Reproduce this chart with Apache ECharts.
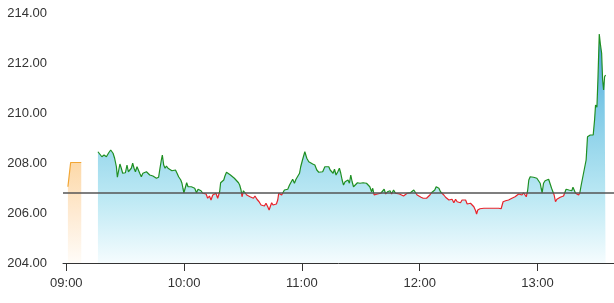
<!DOCTYPE html>
<html>
<head>
<meta charset="utf-8">
<script src="https://cdn.jsdelivr.net/npm/echarts@6/dist/echarts.min.js"></script>
<style>
  html, body { margin: 0; padding: 0; background: #fff; }
  #chart { width: 614px; height: 303px; }
</style>
</head>
<body>
<div id="chart"></div>
<script>
// 分钟数(相对 09:00) 和价格
var preTimes  = [0.8, 2.2, 7.6];
var prePrices = [207.05, 208.02, 208.02];

var mainTimes = [
  16.1,17.0,18.1,19.2,20.4,21.6,22.6,23.8,24.6,25.5,26.0,26.7,27.3,28.0,28.7,29.4,30.1,30.9,31.6,32.3,
  33.1,33.8,34.5,35.2,36.0,36.7,37.4,38.2,39.0,39.9,40.8,41.6,42.5,43.3,44.1,45.0,45.9,46.4,47.0,47.7,
  48.4,48.9,49.6,50.3,51.0,51.8,52.8,53.8,54.8,55.6,56.4,57.2,58.3,58.9,59.4,59.9,60.7,61.3,62.0,62.8,
  63.7,64.5,65.4,66.3,67.1,
  67.8,68.6,69.5,70.3,71.2,72.0,72.9,73.7,74.6,75.4,76.2,77.1,77.6,78.1,78.6,79.3,80.2,80.8,81.6,82.6,
  83.6,84.6,85.6,86.6,87.7,88.3,89.0,89.5,90.2,91.0,91.9,92.8,93.6,94.4,95.3,96.1,97.1,98.2,99.2,100.1,
  100.9,101.7,102.6,103.3,104.0,104.6,105.3,106.0,107.0,107.7,108.2,108.9,109.7,110.4,111.1,111.9,112.8,113.7,114.5,115.3,
  116.2,117.0,117.9,118.8,
  119.4,120.3,121.5,122.5,123.5,124.5,125.5,126.6,127.6,128.6,129.6,130.6,131.7,132.7,133.7,134.4,135.2,135.9,136.6,137.4,
  138.3,139.1,139.8,140.5,141.2,142.0,142.9,143.5,144.2,144.9,145.6,146.3,147.3,148.3,149.0,149.6,150.4,151.2,152.0,152.9,
  153.7,154.6,155.5,156.1,156.8,157.6,158.5,159.3,160.2,161.1,161.9,162.7,163.6,164.4,164.9,165.7,166.7,167.7,168.7,169.7,
  170.7,171.8,
  172.8,173.6,174.5,175.3,176.1,177.0,177.9,178.7,179.6,180.7,181.8,182.6,183.5,184.3,185.2,186.0,186.9,187.7,188.4,189.1,
  189.8,190.6,191.4,192.3,193.2,194.0,194.9,195.7,196.5,197.4,198.3,199.1,200.0,200.8,201.6,202.5,203.4,204.2,205.1,205.9,
  206.7,207.6,208.5,209.0,209.6,210.7,212.7,215.2,217.8,220.3,221.5,222.5,223.8,
  224.4,225.3,226.1,227.0,227.8,228.6,229.5,230.4,231.2,232.1,232.9,233.7,234.3,235.0,235.6,236.3,237.2,238.0,238.8,239.7,
  240.6,241.4,241.9,242.4,243.1,243.9,244.8,245.7,246.5,247.2,247.9,248.5,249.2,249.9,250.8,251.6,252.4,253.3,254.1,254.6,
  255.4,256.0,256.7,257.5,258.1,258.7,259.4,260.1,261.0,261.6,262.3,263.2,264.2,264.8,265.5,266.2,266.9,267.7,268.4,269.1,
  269.6,270.3,270.8,271.5,272.0,272.7,273.2,273.7,274.2,274.7
];

var mainPrices = [
  208.45,208.41,208.25,208.32,208.25,208.41,208.52,208.39,208.19,207.85,207.43,207.72,207.96,207.79,207.59,207.65,207.61,207.92,207.65,207.59,
  207.79,207.99,207.79,207.65,207.85,207.83,207.59,207.45,207.59,207.52,207.65,207.61,207.52,207.48,207.48,207.43,207.39,207.32,207.43,207.79,
  208.12,208.32,207.92,207.79,207.88,207.79,207.72,207.69,207.61,207.72,207.59,207.45,207.32,207.19,206.99,206.81,206.85,207.21,207.05,207.12,
  207.05,207.05,206.99,206.81,206.95,
  206.95,206.89,206.79,206.81,206.76,206.59,206.68,206.52,206.72,206.65,206.79,206.59,206.55,206.85,207.21,207.25,207.32,207.48,207.63,207.59,
  207.52,207.45,207.39,207.32,207.21,207.12,206.92,206.65,206.89,206.81,206.72,206.79,206.65,206.72,206.59,206.68,206.55,206.45,206.32,206.36,
  206.28,206.39,206.25,206.12,206.28,206.41,206.32,206.39,206.36,206.52,206.79,206.81,206.72,206.79,206.92,206.85,206.95,207.12,207.19,207.35,
  207.19,207.35,207.29,207.59,
  207.85,208.12,208.45,208.19,208.05,208.01,207.96,207.92,207.72,207.63,207.61,207.65,207.85,207.92,207.85,207.72,207.79,207.59,207.75,207.52,
  207.65,207.79,207.59,207.32,207.12,207.25,207.19,207.32,207.19,207.52,207.25,207.05,207.12,207.21,207.29,207.19,207.25,207.21,207.25,207.19,
  207.21,207.05,206.85,206.99,206.72,206.68,206.76,206.72,206.79,206.76,206.95,206.76,206.85,206.79,206.89,206.76,206.92,206.79,206.72,206.76,
  206.68,206.68,
  206.63,206.79,206.81,206.81,206.89,206.92,206.88,206.72,206.65,206.63,206.59,206.55,206.59,206.63,206.72,206.81,206.85,206.92,207.05,207.12,
  206.99,206.85,206.79,206.72,206.63,206.59,206.52,206.45,206.55,206.41,206.55,206.45,206.52,206.41,206.52,206.45,206.52,206.36,206.32,206.39,
  206.32,206.25,206.09,205.96,206.12,206.17,206.19,206.19,206.19,206.19,206.17,206.45,206.49,
  206.45,206.52,206.49,206.59,206.55,206.65,206.63,206.76,206.68,206.72,206.81,206.76,206.65,206.89,207.32,207.45,207.48,207.43,207.43,207.39,
  207.39,207.19,206.99,206.81,207.19,207.29,207.32,207.35,207.32,206.99,207.05,206.72,206.45,206.55,206.59,206.63,206.65,206.68,206.76,206.95,
  206.99,206.92,206.85,206.89,207.03,206.92,206.79,206.72,206.72,206.81,207.12,207.48,207.56,208.12,209.05,208.99,209.12,209.19,209.12,209.72,
  210.32,210.23,211.32,213.16,212.79,212.39,211.32,210.92,211.45,211.52
];

var baseLine  = 206.8;
var yTicks    = [204, 206, 208, 210, 212, 214];
var hourTicks = [0, 60, 120, 180, 240];
var hourNames = ['09:00', '10:00', '11:00', '12:00', '13:00'];

function zipData(xs, ys) {
    var out = [];
    for (var i = 0; i < xs.length; i++) {
        out.push([xs[i], ys[i]]);
    }
    return out;
}

var myChart = echarts.init(document.getElementById('chart'), null, { renderer: 'canvas' });

var option = {
    animation: false,
    grid: { left: 63, right: 0, top: 13, bottom: 40 },
    textStyle: { fontFamily: 'Liberation Sans, Arial, sans-serif' },
    xAxis: {
        type: 'value',
        min: -1.7,
        max: 279,
        splitLine: { show: false },
        axisLine: { show: true, onZero: false, lineStyle: { color: '#333', width: 1 } },
        axisTick: { show: true, length: 8, customValues: hourTicks, lineStyle: { color: '#333' } },
        axisLabel: {
            customValues: hourTicks,
            margin: 14,
            color: '#333',
            fontSize: 13,
            formatter: function (v) {
                return hourNames[hourTicks.indexOf(Math.round(v))] || '';
            }
        }
    },
    yAxis: {
        type: 'value',
        min: yTicks[0],
        max: yTicks[yTicks.length - 1],
        interval: 2,
        splitLine: { show: false },
        axisLine: { show: false },
        axisTick: { show: false },
        axisLabel: {
            margin: 16,
            color: '#333',
            fontSize: 13,
            formatter: function (v) { return v.toFixed(2); }
        }
    },
    visualMap: {
        show: false,
        type: 'piecewise',
        seriesIndex: 0,
        dimension: 1,
        pieces: [
            { gt: baseLine, lte: 214, color: '#1f8f22' },
            { gte: 204, lte: baseLine, color: '#e8232b' }
        ]
    },
    series: [
        {
            type: 'line',
            data: zipData(mainTimes, mainPrices),
            showSymbol: false,
            lineStyle: { width: 1.2 },
            areaStyle: {
                opacity: 1,
                color: {
                    type: 'linear', x: 0, y: 0, x2: 0, y2: 1,
                    colorStops: [
                        { offset: 0,    color: '#4a9edb' },
                        { offset: 0.3,  color: '#7cc8e6' },
                        { offset: 0.52, color: '#9edaed' },
                        { offset: 0.72, color: '#bde9f4' },
                        { offset: 1,    color: '#f5fcfe' }
                    ]
                }
            },
            markLine: {
                silent: true,
                symbol: ['none', 'none'],
                label: { show: false },
                lineStyle: { color: '#555', width: 1.5, type: 'solid' },
                data: [{ yAxis: baseLine }]
            },
            z: 2
        },
        {
            type: 'line',
            data: zipData(preTimes, prePrices),
            showSymbol: false,
            color: '#f2a634',
            lineStyle: { width: 1.2, color: '#f2a634' },
            areaStyle: {
                opacity: 1,
                color: {
                    type: 'linear', x: 0, y: 0, x2: 0, y2: 1,
                    colorStops: [
                        { offset: 0,   color: '#fdd9a8' },
                        { offset: 0.5, color: '#feead2' },
                        { offset: 1,   color: '#fffcf8' }
                    ]
                }
            },
            z: 2
        }
    ]
};

myChart.setOption(option);
</script>
</body>
</html>
